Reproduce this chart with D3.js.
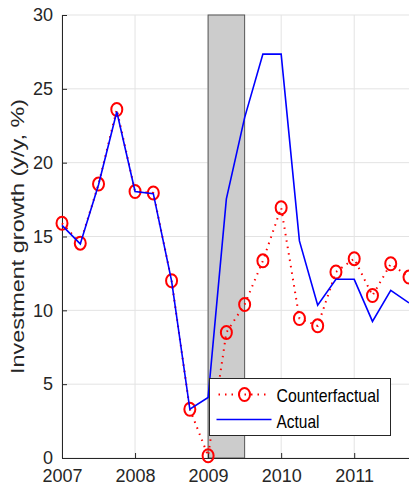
<!DOCTYPE html>
<html>
<head>
<meta charset="utf-8">
<script src="https://cdn.jsdelivr.net/npm/d3@7"></script>
<style>
  body { margin: 0; background: #fff; }
  svg { display: block; font-family: 'Liberation Sans', Arial, sans-serif; }
</style>
</head>
<body>
<svg id="chart" width="409" height="490"></svg>
<script>
// quarterly dates, 2007Q1 .. 2011Q4
var quarters = [2007, 2007.25, 2007.5, 2007.75, 2008, 2008.25, 2008.5, 2008.75,
  2009, 2009.25, 2009.5, 2009.75, 2010, 2010.25, 2010.5, 2010.75,
  2011, 2011.25, 2011.5, 2011.75]

var counterfactual = [15.9, 14.55, 18.55, 23.6, 18.05, 17.95, 12.0, 3.3,
  0.15, 8.5, 10.4, 13.35, 16.95, 9.45, 8.95, 12.6,
  13.5, 11.0, 13.15, 12.25]

var actual = [15.75, 14.5, 18.5, 23.45, 18.05, 17.9, 12.0, 3.3,
  4.1, 17.55, 23.05, 27.35, 27.35, 14.7, 10.35, 12.1,
  12.1, 9.25, 11.35, 10.5]

var recession = [2009, 2009.5]
var yTicks = [0, 5, 10, 15, 20, 25, 30]
var xTicks = [2007, 2008, 2009, 2010, 2011]
var seriesNames = ['Counterfactual', 'Actual']

// plot box (note: 'top' is taken by window.top, so prefixed names)
var plotLeft = 62, plotRight = 409, plotTop = 15, plotBottom = 458
var axisColor = '#262626'

var svg = d3.select('#chart')

var x = d3.scaleLinear().domain([2007, 2011.75]).range([plotLeft, plotRight])
var y = d3.scaleLinear().domain([0, 30]).range([plotBottom, plotTop])

// ===== grid =====
var grid = svg.append('g')
grid.selectAll('.gx').data(xTicks).enter().append('line')
  .attr('x1', d => x(d)).attr('x2', d => x(d))
  .attr('y1', plotTop).attr('y2', plotBottom)
  .attr('stroke', '#e3e3e3').attr('stroke-width', 1)
grid.selectAll('.gy').data(yTicks).enter().append('line')
  .attr('x1', plotLeft).attr('x2', plotRight)
  .attr('y1', d => y(d)).attr('y2', d => y(d))
  .attr('stroke', '#e3e3e3').attr('stroke-width', 1)

// ===== recession band =====
svg.append('rect')
  .attr('x', x(recession[0]))
  .attr('y', plotTop)
  .attr('width', x(recession[1]) - x(recession[0]))
  .attr('height', plotBottom - plotTop)
  .attr('fill', '#cccccc')
  .attr('stroke', '#555')
  .attr('stroke-width', 1)

// ===== axes =====
var yAxis = d3.axisLeft(y).tickValues(yTicks).tickSize(-5).tickPadding(9)
var xAxis = d3.axisBottom(x).tickValues(xTicks).tickFormat(d3.format('d')).tickSize(-5).tickPadding(11)

var gy = svg.append('g').attr('transform', 'translate(' + plotLeft + ',0)').call(yAxis)
var gx = svg.append('g').attr('transform', 'translate(0,' + plotBottom + ')').call(xAxis)

;[gx, gy].forEach(function (g) {
  g.select('.domain').attr('stroke', axisColor).attr('stroke-width', 1)
  g.selectAll('.tick line').attr('stroke', axisColor)
  g.selectAll('.tick text')
    .attr('fill', axisColor)
    .style('font-size', '18px')
    .style('font-family', "'Liberation Sans', Arial, sans-serif")
})
gy.select('.domain').attr('d', 'M0.5,' + plotTop + 'V' + plotBottom)
gx.select('.domain').attr('d', 'M' + plotLeft + ',0.5H' + plotRight)

// ===== y label =====
svg.append('text')
  .attr('transform', 'translate(23.5,' + ((plotTop + plotBottom) / 2) + ') rotate(-90)')
  .attr('text-anchor', 'middle')
  .attr('fill', axisColor)
  .style('font-size', '19px')
  .attr('textLength', 275)
  .attr('lengthAdjust', 'spacingAndGlyphs')
  .text('Investment growth (y/y, %)')

// ===== lines =====
var line = d3.line()
  .x(d => x(d[0]))
  .y(d => y(d[1]))

var cfData = quarters.map((q, i) => [q, counterfactual[i]])
var acData = quarters.map((q, i) => [q, actual[i]])

svg.append('path')
  .datum(cfData)
  .attr('d', line)
  .attr('fill', 'none')
  .attr('stroke', '#ff0000')
  .attr('stroke-width', 2)
  .attr('stroke-dasharray', '1.5,5')

svg.selectAll('.cf-marker').data(cfData).enter().append('ellipse')
  .attr('cx', d => x(d[0]))
  .attr('cy', d => y(d[1]))
  .attr('rx', 5.5).attr('ry', 6.5)
  .attr('fill', 'none')
  .attr('stroke', '#ff0000')
  .attr('stroke-width', 2)

svg.append('path')
  .datum(acData)
  .attr('d', line)
  .attr('fill', 'none')
  .attr('stroke', '#0000ff')
  .attr('stroke-width', 1.6)

// ===== legend =====
var legend = svg.append('g').attr('transform', 'translate(209.5,378.5)')
legend.append('rect')
  .attr('width', 181).attr('height', 57)
  .attr('fill', '#fff')
  .attr('stroke', '#262626').attr('stroke-width', 1)

legend.append('line')
  .attr('x1', 9).attr('x2', 60).attr('y1', 16).attr('y2', 16)
  .attr('stroke', '#ff0000').attr('stroke-width', 2)
  .attr('stroke-dasharray', '1.5,5')
legend.append('ellipse')
  .attr('cx', 35).attr('cy', 16).attr('rx', 5.5).attr('ry', 6.5)
  .attr('fill', 'none').attr('stroke', '#ff0000').attr('stroke-width', 2)
legend.append('line')
  .attr('x1', 7).attr('x2', 62).attr('y1', 41).attr('y2', 41)
  .attr('stroke', '#0000ff').attr('stroke-width', 1.6)

// legend text in the reference is narrow, squeeze it to the measured widths
var legendWidths = [103, 43]
legend.selectAll('.lt').data(seriesNames).enter().append('text')
  .attr('x', 67)
  .attr('y', (d, i) => 23.5 + i * 25.5)
  .attr('fill', '#000')
  .style('font-size', '19px')
  .attr('textLength', (d, i) => legendWidths[i])
  .attr('lengthAdjust', 'spacingAndGlyphs')
  .text(d => d)
</script>
</body>
</html>
